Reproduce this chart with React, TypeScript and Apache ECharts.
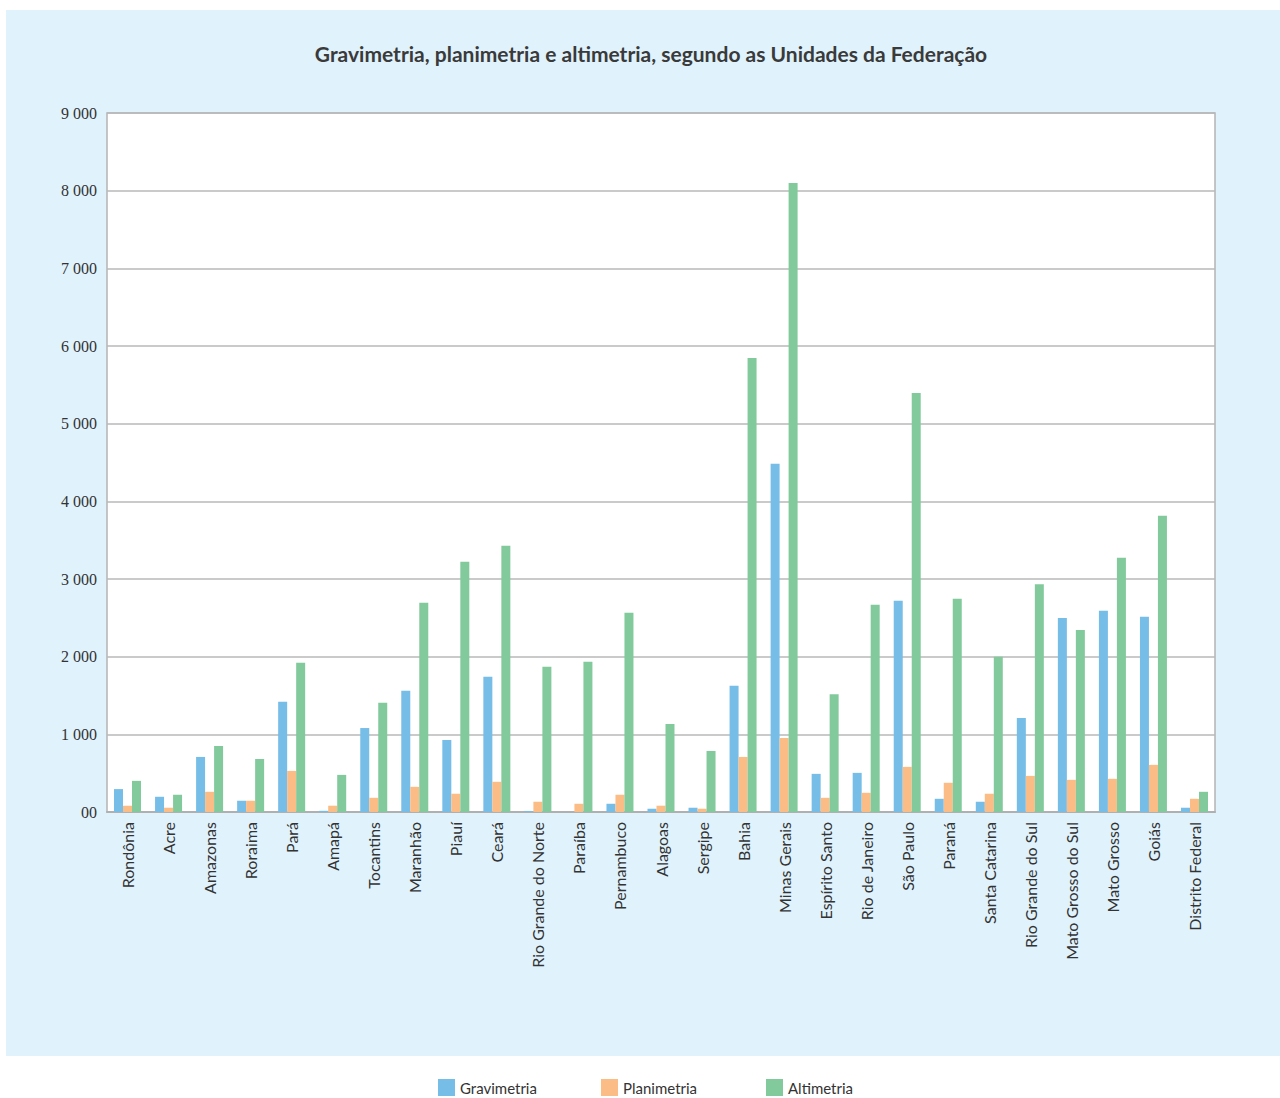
import React, { useEffect, useRef } from "react";
import * as echarts from "echarts";

const categories = [
  "Rondônia", "Acre", "Amazonas", "Roraima", "Pará", "Amapá", "Tocantins",
  "Maranhão", "Piauí", "Ceará", "Rio Grande do Norte", "Paraíba", "Pernambuco",
  "Alagoas", "Sergipe", "Bahia", "Minas Gerais", "Espírito Santo",
  "Rio de Janeiro", "São Paulo", "Paraná", "Santa Catarina",
  "Rio Grande do Sul", "Mato Grosso do Sul", "Mato Grosso", "Goiás",
  "Distrito Federal",
];

const gravimetria = [295, 196, 709, 145, 1420, 15, 1081, 1561, 927, 1741, 12, 0, 106, 42, 55, 1625, 4483, 491, 504, 2720, 170, 132, 1209, 2497, 2591, 2513, 55];
const planimetria = [81, 55, 260, 145, 529, 81, 183, 324, 235, 389, 132, 106, 222, 81, 42, 709, 953, 183, 247, 581, 376, 235, 465, 414, 427, 607, 170];
const altimetria = [401, 222, 850, 683, 1921, 478, 1407, 2694, 3222, 3427, 1870, 1934, 2565, 1132, 786, 5847, 8099, 1517, 2668, 5396, 2745, 2000, 2931, 2343, 3273, 3813, 260];

const seriesNames = ["Gravimetria", "Planimetria", "Altimetria"];
const colors = ["#76BDE8", "#FBBC85", "#82CA9C"];

export default function App() {
  const ref = useRef<HTMLDivElement>(null);
  useEffect(() => {
    if (!ref.current) return;
    const chart = echarts.init(ref.current, null, { renderer: "svg" });
    const legendFont = { fontFamily: "Lato", fontSize: 15, color: "#333" };
    const legendLefts = [438, 601, 766];
    chart.setOption({
      animation: false,
      backgroundColor: "#ffffff",
      graphic: [
        {
          type: "rect",
          z: -10,
          shape: { x: 6, y: 10, width: 1274, height: 1046 },
          style: { fill: "#E0F2FC" },
          silent: true,
        },
      ],
      title: {
        text: "Gravimetria, planimetria e altimetria, segundo as Unidades da Federação",
        left: 646,
        textAlign: "center",
        top: 38,
        textStyle: { fontFamily: "Lato", fontSize: 21, fontWeight: "bold", color: "#3a3a3a" },
      },
      legend: seriesNames.map((n, i) => ({
        data: [n],
        left: legendLefts[i],
        top: 1079,
        padding: 0,
        icon: "rect",
        itemWidth: 17,
        itemHeight: 17,
        itemGap: 8,
        textStyle: legendFont,
        selectedMode: false,
      })),
      grid: {
        left: 107,
        right: 65,
        top: 113,
        bottom: 286,
        show: true,
        backgroundColor: "#ffffff",
        borderColor: "#b4b4b4",
        borderWidth: 1.5,
      },
      xAxis: {
        type: "category",
        data: categories,
        axisLine: { show: true, lineStyle: { color: "#b0b0b0", width: 2 } },
        axisTick: { show: false },
        axisLabel: {
          interval: 0,
          rotate: 90,
          margin: 10,
          fontFamily: "Lato",
          fontSize: 16,
          color: "#333",
        },
      },
      yAxis: {
        type: "value",
        min: 0,
        max: 9000,
        interval: 1000,
        axisLine: { show: false },
        axisTick: { show: false },
        splitLine: { lineStyle: { color: "#b8b8b8", width: 1.5 } },
        axisLabel: {
          margin: 10,
          fontFamily: "Liberation Serif",
          fontSize: 16,
          color: "#333",
          formatter: (v: number) =>
            v === 0 ? "00" : String(v).replace(/\B(?=(\d{3})+(?!\d))/g, " "),
        },
      },
      series: [gravimetria, planimetria, altimetria].map((d, i) => ({
        name: seriesNames[i],
        type: "bar",
        data: d,
        barWidth: 9,
        barGap: "0%",
        itemStyle: { color: colors[i] },
      })),
    });
    return () => chart.dispose();
  }, []);
  return (
    <div
      ref={ref}
      style={{ position: "absolute", left: 0, top: 0, width: 1280, height: 1098 }}
    />
  );
}
